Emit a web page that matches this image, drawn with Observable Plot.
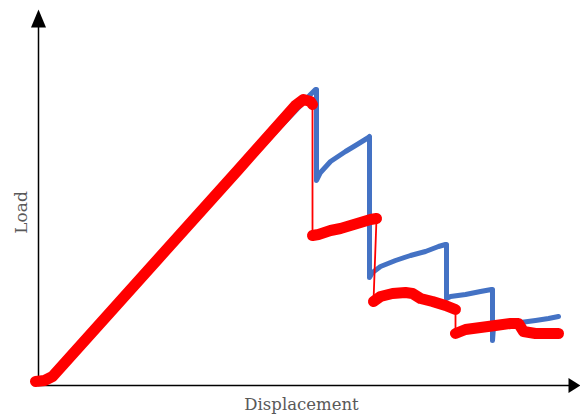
<!DOCTYPE html>
<html>
<head>
<meta charset="utf-8">
<script src="https://cdn.jsdelivr.net/npm/d3@7"></script>
<script src="https://cdn.jsdelivr.net/npm/@observablehq/plot@0.6"></script>
<style>
  html, body { margin: 0; padding: 0; background: #fff; }
  svg { display: block; }
</style>
</head>
<body>
<div id="chart"></div>
<script>
// Blue specimen curve (displacement, load) in arbitrary units
const blueX = [0, 12, 60, 120, 180, 240, 262, 272, 277, 278, 278, 282, 292, 307, 317, 330, 331, 331, 334, 342, 357, 372, 387, 400, 407, 408, 408, 412, 427, 442, 453, 454, 454, 455, 467, 482, 497, 510, 520];
const blueY = [2, 8, 62, 127, 192, 257, 280, 291, 296, 296, 205, 213, 224, 234, 240, 248, 249, 108, 113, 119, 125, 130, 134, 139, 141, 141, 87, 89, 91, 94, 96, 96, 45, 59, 60, 63, 65, 67, 69];

// Red specimen curve, with segment id (drops between segments drawn thin)
const redX = [-3, 6, 14, 120, 200, 257, 265, 272, 274,
              274, 280, 292, 302, 312, 322, 332, 338,
              335, 342, 354, 367, 374, 382, 394, 407, 417,
              417, 427, 442, 457, 472, 480, 485, 497, 520];
const redY = [4, 5, 9, 127, 216, 280, 286, 284, 281,
              150, 151, 155, 157, 160, 163, 166, 167,
              84, 89, 92, 93, 92, 87, 84, 80, 76,
              52, 56, 58, 60, 62, 62, 54, 52, 52];
const redSeg = [1, 1, 1, 1, 1, 1, 1, 1, 1,
                2, 2, 2, 2, 2, 2, 2, 2,
                3, 3, 3, 3, 3, 3, 3, 3, 3,
                4, 4, 4, 4, 4, 4, 4, 4, 4];

const xLabel = "Displacement";
const yLabel = "Load";

const blue = blueX.map((x, i) => ({x, y: blueY[i]}));
const red = redX.map((x, i) => ({x, y: redY[i], seg: redSeg[i]}));

const xMax = 542, yMax = 385;

const triangle = {
  draw(context, l) {
    context.moveTo(-7.5, 0);
    context.lineTo(0, -l);
    context.lineTo(7.5, 0);
    context.closePath();
  }
};

const chart = Plot.plot({
  width: 580,
  height: 416,
  marginLeft: 38,
  marginRight: 0,
  marginTop: 0,
  marginBottom: 31,
  x: {domain: [0, xMax], axis: null},
  y: {domain: [0, yMax], axis: null},
  style: {background: "#fff"},
  marks: [
    Plot.ruleX([0], {y1: 0, y2: yMax - 24, stroke: "#000", strokeWidth: 1.5}),
    Plot.ruleY([0], {x1: 0, x2: xMax - 10, stroke: "#000", strokeWidth: 1.5}),
    Plot.vector([0], {x: 0, y: yMax - 27, length: 18, anchor: "start", rotate: 0, shape: triangle, fill: "#000", stroke: "none"}),
    Plot.vector([0], {x: xMax - 12, y: 0, length: 12, anchor: "start", rotate: 90, shape: triangle, fill: "#000", stroke: "none"}),
    Plot.line(blue, {x: "x", y: "y", stroke: "#4472C4", strokeWidth: 5, strokeLinejoin: "round"}),
    Plot.line(red, {x: "x", y: "y", stroke: "#FF0000", strokeWidth: 1.8}),
    Plot.line(red, {x: "x", y: "y", z: "seg", stroke: "#FF0000", strokeWidth: 11, strokeLinecap: "round", strokeLinejoin: "round"}),
    Plot.text([yLabel], {x: -17, y: 173, rotate: -90, fontFamily: "DejaVu Serif", fontSize: 17, letterSpacing: 2.5, fill: "#595959"}),
    Plot.text([xLabel], {x: 263, y: -19, fontFamily: "DejaVu Serif", fontSize: 16.5, fill: "#595959"})
  ]
});
document.getElementById("chart").appendChild(chart);
</script>
</body>
</html>
